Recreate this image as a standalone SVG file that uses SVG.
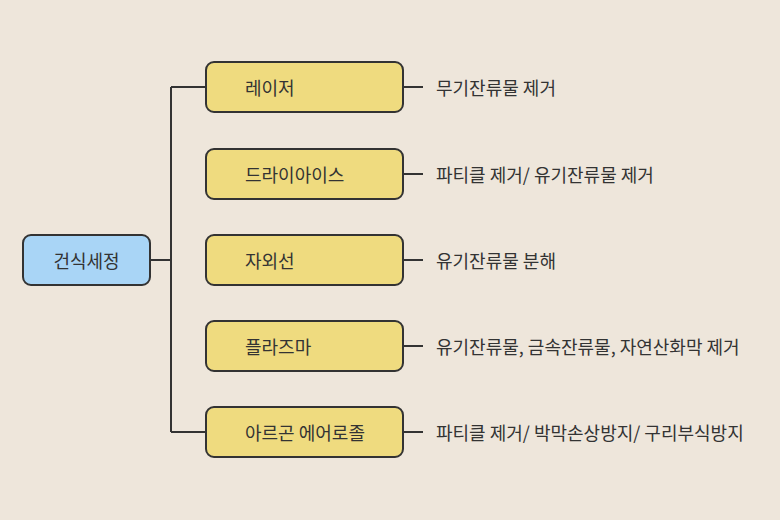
<svg xmlns="http://www.w3.org/2000/svg" width="780" height="520" viewBox="0 0 780 520">
<style>
.bg{fill:#EEE6DB}
.box{stroke:#333333;stroke-width:2}
.root{fill:#A9D5F6}
.leaf{fill:#EFDB7F}
.t{font-family:"Noto Sans CJK KR","Noto Sans",sans-serif;font-size:18px;fill:#333333;dominant-baseline:central}
.c{text-anchor:middle}
.ln{fill:none;stroke:#333333;stroke-width:2}
</style>
<rect class="bg" x="0" y="0" width="780" height="520"/>
<g id="connectors">
<path class="ln" d="M150 260H171M171 87V432M171 87H206M171 432H206"/>
<path class="ln" d="M403 87H423M403 174H423M403 260H423M403 346H423M403 432H423"/>
</g>
<g id="root"><rect class="box root" x="23" y="235" width="127" height="50" rx="8"/><text class="t c" x="86.5" y="260">건식세정</text></g>
<g id="n1"><rect class="box leaf" x="206" y="62" width="197" height="50" rx="8"/><text class="t" x="245" y="87">레이저</text></g>
<g id="n2"><rect class="box leaf" x="206" y="149" width="197" height="50" rx="8"/><text class="t" x="245" y="174">드라이아이스</text></g>
<g id="n3"><rect class="box leaf" x="206" y="235" width="197" height="50" rx="8"/><text class="t" x="245" y="260">자외선</text></g>
<g id="n4"><rect class="box leaf" x="206" y="321" width="197" height="50" rx="8"/><text class="t" x="245" y="346">플라즈마</text></g>
<g id="n5"><rect class="box leaf" x="206" y="407" width="197" height="50" rx="8"/><text class="t" x="245" y="432">아르곤 에어로졸</text></g>
<g id="labels">
<text class="t" x="436" y="87">무기잔류물 제거</text>
<text class="t" x="436" y="174">파티클 제거/ 유기잔류물 제거</text>
<text class="t" x="436" y="260">유기잔류물 분해</text>
<text class="t" x="436" y="346">유기잔류물, 금속잔류물, 자연산화막 제거</text>
<text class="t" x="436" y="432">파티클 제거/ 박막손상방지/ 구리부식방지</text>
</g>
</svg>
